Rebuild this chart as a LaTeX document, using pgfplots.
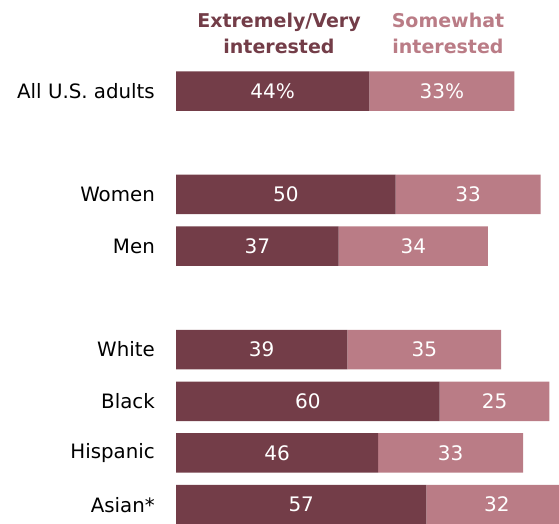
\documentclass[border=0pt]{standalone}
\usepackage{pgfplots}
\pgfplotsset{compat=1.18}
\usepackage{fontspec}
\setmainfont{DejaVu Sans}
\definecolor{darkbar}{HTML}{733D48}
\definecolor{lightbar}{HTML}{BA7C86}
\begin{document}
\begin{tikzpicture}
\path[use as bounding box] (0,0) rectangle (559pt,523pt);
\pgfplotsset{common/.style={
  at={(176pt,-7.5pt)}, anchor=south west, scale only axis,
  width=439.4pt, height=465.3pt,
  xmin=0, xmax=100, ymin=-8.5, ymax=0.5,
  hide x axis, axis y line*=left, y axis line style={draw=none},
  major tick length=0pt,
  clip=false,
}}
\begin{axis}[common,
  xbar stacked, bar width=39.5pt,
  ytick={0,-2,-3,-5,-6,-7,-8},
  yticklabels={All U.S. adults,Women,Men,White,Black,Hispanic,Asian*},
  yticklabel style={font=\fontsize{19.8}{22}\selectfont, anchor=east, inner sep=0pt, xshift=-21pt},
]
\addplot[fill=darkbar, draw=none] coordinates {(44,0) (50,-2) (37,-3) (39,-5) (60,-6) (46,-7) (57,-8)};
\addplot[fill=lightbar, draw=none] coordinates {(33,0) (33,-2) (34,-3) (35,-5) (25,-6) (33,-7) (32,-8)};
\end{axis}
\begin{axis}[common, ytick=\empty,
  every node near coord/.append style={anchor=center, text=white, font=\fontsize{20}{22}\selectfont},
]
\addplot[draw=none, nodes near coords, point meta=explicit symbolic] coordinates {
 (22,0) [44\%] (60.5,0) [33\%]
 (25,-2) [50] (66.5,-2) [33]
 (18.5,-3) [37] (54,-3) [34]
 (19.5,-5) [39] (56.5,-5) [35]
 (30,-6) [60] (72.5,-6) [25]
 (23,-7) [46] (62.5,-7) [33]
 (28.5,-8) [57] (73,-8) [32]
};
\end{axis}
\node[anchor=base, text=darkbar, font=\bfseries\fontsize{19}{22}\selectfont] at (279pt,495.7pt) {Extremely/Very};
\node[anchor=base, text=darkbar, font=\bfseries\fontsize{19}{22}\selectfont] at (279pt,469.7pt) {interested};
\node[anchor=base, text=lightbar, font=\bfseries\fontsize{19}{22}\selectfont] at (448pt,495.7pt) {Somewhat};
\node[anchor=base, text=lightbar, font=\bfseries\fontsize{19}{22}\selectfont] at (448pt,469.7pt) {interested};
\end{tikzpicture}
\end{document}
